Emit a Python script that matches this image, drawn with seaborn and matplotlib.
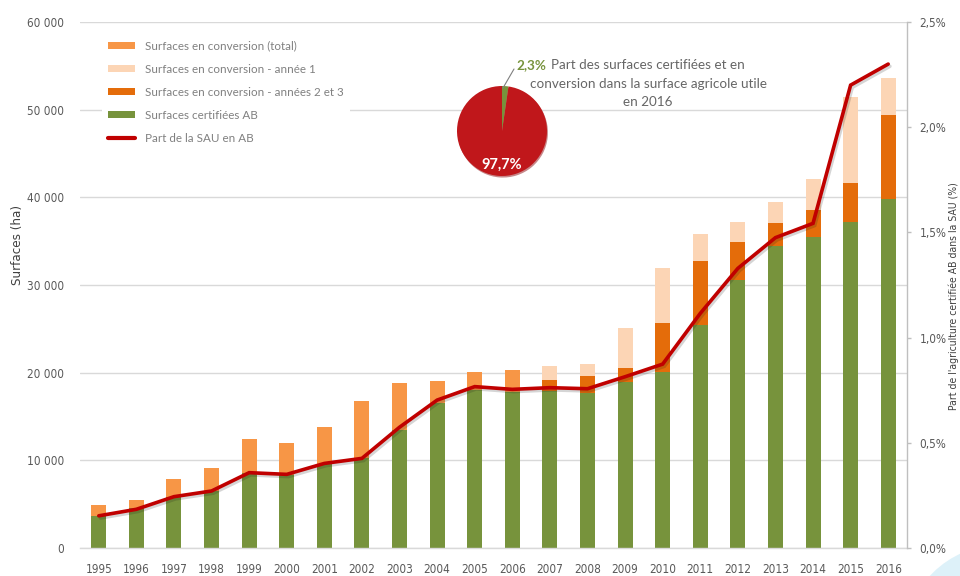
import numpy as np
import pandas as pd
import matplotlib
matplotlib.use("Agg")
import matplotlib.pyplot as plt
import matplotlib.patheffects as pe
from matplotlib.patches import Patch, Ellipse
from matplotlib.lines import Line2D
from matplotlib.ticker import FuncFormatter, FixedLocator
import seaborn as sns

# ---------------- data ----------------
years = [str(y) for y in range(1995, 2017)]
certifiees = [3700, 4530, 5850, 6540, 8590, 8360, 9580, 10230, 13460, 16580, 18020,
              17830, 17900, 17710, 18970, 20040, 25440, 30570, 34450, 35440, 37230, 39810]
conv_total = [1200, 980, 1980, 2540, 3880, 3620, 4220, 6500, 5320, 2510, 2020,
              2470, 0, 0, 0, 0, 0, 0, 0, 0, 0, 0]
conv_an23 = [0, 0, 0, 0, 0, 0, 0, 0, 0, 0, 0,
             0, 1260, 1950, 1600, 5660, 7300, 4370, 2660, 3110, 4370, 9580]
conv_an1 = [0, 0, 0, 0, 0, 0, 0, 0, 0, 0, 0,
            0, 1600, 1330, 4560, 6200, 3040, 2250, 2390, 3540, 9800, 4190]
part_sau = [0.153, 0.184, 0.244, 0.271, 0.358, 0.350, 0.402, 0.426, 0.574, 0.703, 0.767,
            0.754, 0.762, 0.757, 0.814, 0.874, 1.115, 1.329, 1.475, 1.543, 2.20, 2.30]
pie_values = [2.3, 97.7]
pie_labels = ["2,3%", "97,7%"]
left_ticks = [0, 10000, 20000, 30000, 40000, 50000, 60000]
right_ticks = [0.0, 0.5, 1.0, 1.5, 2.0, 2.5]
legend_labels = ["Surfaces en conversion (total)", "Surfaces en conversion - année 1",
                 "Surfaces en conversion - années 2 et 3", "Surfaces certifiées AB",
                 "Part de la SAU en AB"]

C_TOTAL = "#F79646"
C_AN1 = "#FCD5B5"
C_AN23 = "#E46C0A"
C_GREEN = "#77933C"
C_LINE = "#C00000"
C_PIE_RED = "#C0171B"

sns.set_theme(style="white")
plt.rcParams['font.family'] = ['Lato', 'DejaVu Sans']
NARROW = ['DejaVu Sans']

W, H = 960, 576
def fx(x):
    return x / W
def fy(y):
    return 1 - y / H

fig = plt.figure(figsize=(9.6, 5.76), dpi=100)

# decorative circle bottom-right
fig.patches.append(Ellipse((fx(1000), fy(640)), 190 / W, 190 / H, transform=fig.transFigure,
                           facecolor="#DDF1F9", edgecolor="none", zorder=0))

ax = fig.add_axes([fx(80), fy(548), (907 - 80) / W, (548 - 22) / H])
ax.set_facecolor("none")

g = np.array(certifiees)
df = pd.DataFrame({
    "annee": years,
    "top_an1": g + np.array(conv_an23) + np.array(conv_an1),
    "top_an23": g + np.array(conv_an23),
    "top_total": g + np.array(conv_total),
    "top_green": g,
})

for col, c in [("top_an1", C_AN1), ("top_an23", C_AN23), ("top_total", C_TOTAL), ("top_green", C_GREEN)]:
    sns.barplot(data=df, x="annee", y=col, color=c, saturation=1, width=0.4,
                linewidth=0, errorbar=None, ax=ax, zorder=2)

ax.set_xlim(-0.5, 21.5)
ax.set_ylim(0, 60000)
ax.yaxis.set_major_locator(FixedLocator(left_ticks))
ax.yaxis.set_major_formatter(FuncFormatter(lambda v, p: f"{int(v):,}".replace(",", " ")))
ax.grid(axis="y", color="#D9D9D9", lw=1.0, zorder=0)
ax.set_axisbelow(True)
ax.set_xlabel("")
ax.set_ylabel("")
for s in ["left", "top", "right"]:
    ax.spines[s].set_visible(False)
ax.spines["bottom"].set_color("#D9D9D9")
ax.spines["bottom"].set_linewidth(1.0)
ax.tick_params(axis="x", length=0, pad=10.5, labelsize=8.5, labelcolor="#595959")
ax.tick_params(axis="y", length=0, pad=11.5, labelsize=8.5, labelcolor="#595959")
for lbl in ax.get_xticklabels() + ax.get_yticklabels():
    lbl.set_fontfamily(NARROW)
    lbl.set_fontstretch("condensed")

ax2 = ax.twinx()
sns.lineplot(x=np.arange(len(years)), y=part_sau, ax=ax2, color=C_LINE, lw=2.6,
             solid_joinstyle="miter",
             path_effects=[pe.SimpleLineShadow(offset=(1.2, -1.6), shadow_color="k", alpha=0.18),
                           pe.Normal()])
ax2.set_ylim(0, 2.5)
ax2.yaxis.set_major_locator(FixedLocator(right_ticks))
ax2.yaxis.set_major_formatter(FuncFormatter(lambda v, p: f"{v:.1f}%".replace(".", ",")))
for s in ["left", "top", "bottom"]:
    ax2.spines[s].set_visible(False)
ax2.spines["right"].set_color("#BFBFBF")
ax2.spines["right"].set_linewidth(1.0)
ax2.tick_params(axis="y", length=3, width=1, color="#BFBFBF", pad=6, labelsize=8.5,
                labelcolor="#595959")
ax2.grid(False)
for lbl in ax2.get_yticklabels():
    lbl.set_fontfamily(NARROW)
    lbl.set_fontstretch("condensed")
ax.set_xlim(-0.5, 21.5)

# axis titles
fig.text(fx(18), fy(245), "Surfaces (ha)", rotation=90, ha="center", va="center",
         fontsize=9.5, color="#404040", family=NARROW, fontstretch="condensed")
fig.text(fx(954), fy(296), "Part de l'agriculture certifiée AB dans la SAU (%)", rotation=90,
         ha="center", va="center", fontsize=7.5, color="#404040", family=NARROW,
         fontstretch="condensed")

# legend
handles = [Patch(facecolor=C_TOTAL, edgecolor="none"),
           Patch(facecolor=C_AN1, edgecolor="none"),
           Patch(facecolor=C_AN23, edgecolor="none"),
           Patch(facecolor=C_GREEN, edgecolor="none"),
           Line2D([0], [0], color=C_LINE, lw=3)]
leg = fig.legend(handles, legend_labels, loc="upper left", bbox_to_anchor=(fx(96), fy(29)),
                 frameon=True, facecolor="white", edgecolor="none", framealpha=1, fancybox=False,
                 fontsize=8.4, labelcolor="#808080", handlelength=2.3, handleheight=0.6,
                 handletextpad=0.9, labelspacing=1.03, borderpad=0.5)

# pie inset
cx, cy, r = 502, 131, 45
pax = fig.add_axes([fx(cx - r), fy(cy + r), 2 * r / W, 2 * r / H])
pax.pie(pie_values, colors=[C_GREEN, C_PIE_RED], startangle=90, counterclock=False,
        shadow={"ox": 0.015, "oy": -0.025, "shade": 0.25}, wedgeprops=dict(linewidth=0))
pax.set_xlim(-1.0, 1.0)
pax.set_ylim(-1.0, 1.0)
pax.set_aspect("equal")
pax.axis("off")
pax.text(0, -0.74, pie_labels[1], ha="center", va="center", color="white",
         fontsize=10.5, fontweight="bold")

fig.add_artist(Line2D([fx(503), fx(514)], [fy(88), fy(69)], transform=fig.transFigure,
                      color="#7F7F7F", lw=0.8))
fig.text(fx(546), fy(65), pie_labels[0], ha="right", va="center", color=C_GREEN,
         fontsize=9.7, fontweight="bold")
fig.text(fx(551), fy(65), "Part des surfaces certifiées et en", ha="left", va="center",
         color="#666666", fontsize=9.7)
fig.text(fx(648), fy(84), "conversion dans la surface agricole utile", ha="center", va="center",
         color="#666666", fontsize=9.7)
fig.text(fx(648), fy(102), "en 2016", ha="center", va="center", color="#666666", fontsize=9.7)

fig.savefig("out.png", dpi=100)
